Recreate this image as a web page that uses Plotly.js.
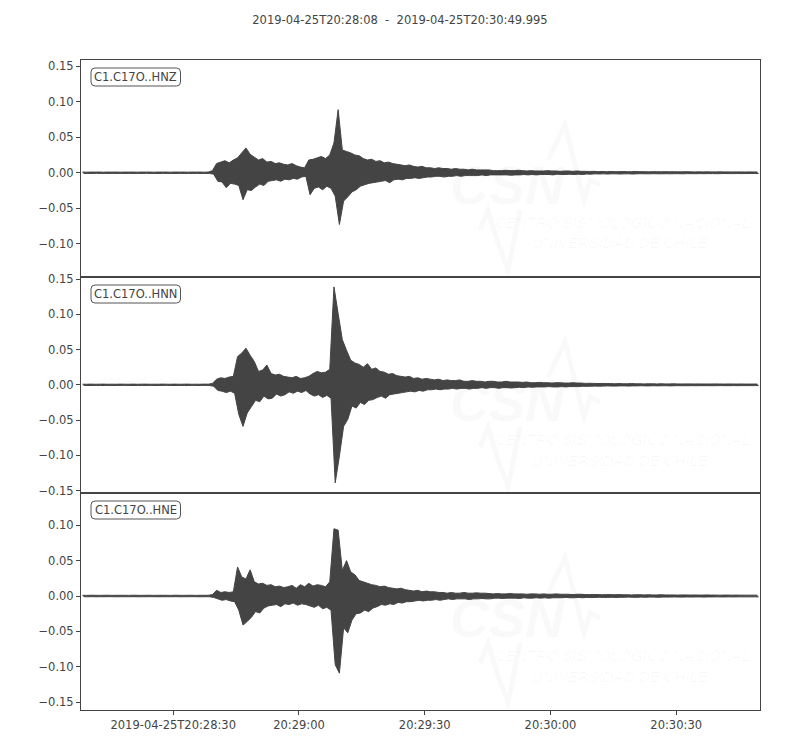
<!DOCTYPE html>
<html>
<head>
<meta charset="utf-8">
<script src="https://cdn.plot.ly/plotly-3.0.1.min.js"></script>
<style>html,body{margin:0;padding:0;background:#fff;}#chart{width:800px;height:750px;}</style>
</head>
<body>
<div id="chart"></div>
<script>
// ---- data: per-second min/max envelope of each channel (bins start at 20:28:08, 1 s wide) ----
const startTime = '2019-04-25T20:28:08';
const endTime = '2019-04-25T20:30:49.995';
const channels = ['C1.C17O..HNZ', 'C1.C17O..HNN', 'C1.C17O..HNE'];

const hnzMax = [
0.001,0.0008,0.001,0.0009,0.001,0.0008,0.001,0.0009,0.001,0.0008,
0.001,0.0009,0.001,0.0008,0.001,0.0009,0.001,0.0008,0.001,0.0009,
0.001,0.0008,0.001,0.0009,0.001,0.0008,0.001,0.0009,0.001,0.0008,
0.001,0.003,0.013,0.015,0.017,0.014,0.018,0.021,0.028,0.035,
0.026,0.022,0.018,0.020,0.015,0.016,0.013,0.014,0.012,0.011,
0.013,0.010,0.008,0.007,0.018,0.019,0.021,0.023,0.020,0.025,
0.042,0.089,0.032,0.030,0.028,0.025,0.024,0.020,0.018,0.019,
0.016,0.017,0.014,0.015,0.013,0.012,0.011,0.010,0.011,0.009,
0.008,0.009,0.007,0.007,0.006,0.007,0.006,0.006,0.005,0.006,
0.005,0.005,0.004,0.005,0.004,0.004,0.004,0.004,0.003,0.003,
0.003,0.0035,0.003,0.003,0.0035,0.003,0.0025,0.003,0.0025,0.0025,
0.0025,0.003,0.0025,0.0025,0.002,0.0025,0.0025,0.002,0.0025,0.002,
0.002,0.0018,0.002,0.0015,0.0018,0.0015,0.0018,0.0015,0.0015,0.0018,
0.0015,0.0015,0.0018,0.0015,0.0015,0.0013,0.0015,0.0015,0.0013,0.0015,
0.0013,0.0015,0.0013,0.0013,0.0015,0.0013,0.0012,0.0013,0.0012,0.0013,
0.0012,0.0012,0.0013,0.0012,0.0012,0.0011,0.0012,0.0012,0.0011,0.0012,
0.0011,0.0011];
const hnzMin = [
-0.001,-0.0009,-0.001,-0.0008,-0.001,-0.0009,-0.001,-0.0008,-0.001,-0.0009,
-0.001,-0.0008,-0.001,-0.0009,-0.001,-0.0008,-0.001,-0.0009,-0.001,-0.0008,
-0.001,-0.0009,-0.001,-0.0008,-0.001,-0.0009,-0.001,-0.0008,-0.001,-0.0009,
-0.001,-0.002,-0.012,-0.013,-0.021,-0.015,-0.016,-0.018,-0.038,-0.024,
-0.025,-0.020,-0.016,-0.018,-0.012,-0.011,-0.010,-0.012,-0.009,-0.010,
-0.008,-0.009,-0.006,-0.005,-0.031,-0.022,-0.020,-0.024,-0.019,-0.022,
-0.033,-0.073,-0.040,-0.034,-0.027,-0.024,-0.019,-0.017,-0.015,-0.014,
-0.013,-0.012,-0.011,-0.014,-0.010,-0.009,-0.010,-0.008,-0.008,-0.007,
-0.008,-0.007,-0.006,-0.006,-0.005,-0.005,-0.006,-0.005,-0.005,-0.004,
-0.005,-0.004,-0.004,-0.004,-0.004,-0.003,-0.004,-0.003,-0.003,-0.003,
-0.003,-0.003,-0.0035,-0.003,-0.003,-0.0025,-0.003,-0.0025,-0.003,-0.0025,
-0.0025,-0.0025,-0.003,-0.002,-0.0025,-0.0025,-0.002,-0.0025,-0.002,-0.0025,
-0.0018,-0.002,-0.0015,-0.0018,-0.0015,-0.0018,-0.0015,-0.0015,-0.0018,-0.0015,
-0.0015,-0.0018,-0.0015,-0.0013,-0.0015,-0.0015,-0.0013,-0.0015,-0.0015,-0.0013,
-0.0015,-0.0013,-0.0013,-0.0015,-0.0012,-0.0013,-0.0013,-0.0012,-0.0013,-0.0012,
-0.0012,-0.0013,-0.0012,-0.0011,-0.0012,-0.0012,-0.0011,-0.0012,-0.0011,-0.0011,
-0.0011,-0.0011];

const hnnMax = [
0.0009,0.0008,0.001,0.0008,0.0009,0.001,0.0008,0.0009,0.0008,0.001,
0.0009,0.0008,0.001,0.0008,0.0009,0.001,0.0008,0.0009,0.0008,0.001,
0.0009,0.0008,0.001,0.0008,0.0009,0.001,0.0008,0.0009,0.0008,0.001,
0.0009,0.002,0.008,0.010,0.009,0.011,0.012,0.040,0.045,0.052,
0.042,0.033,0.019,0.021,0.028,0.016,0.014,0.015,0.012,0.011,
0.010,0.012,0.009,0.010,0.012,0.016,0.019,0.017,0.018,0.022,
0.139,0.101,0.064,0.049,0.035,0.031,0.029,0.025,0.030,0.022,
0.024,0.019,0.018,0.015,0.016,0.013,0.012,0.011,0.012,0.009,
0.010,0.008,0.009,0.008,0.007,0.008,0.006,0.007,0.006,0.006,
0.007,0.005,0.005,0.006,0.005,0.005,0.004,0.005,0.005,0.004,
0.004,0.005,0.004,0.004,0.004,0.0035,0.004,0.003,0.003,0.0035,
0.003,0.003,0.0025,0.003,0.003,0.0025,0.0025,0.003,0.0025,0.0025,
0.002,0.0022,0.002,0.0018,0.002,0.0018,0.0018,0.0015,0.0018,0.0015,
0.0015,0.0018,0.0015,0.0015,0.0013,0.0015,0.0015,0.0013,0.0015,0.0013,
0.0013,0.0015,0.0013,0.0012,0.0013,0.0013,0.0012,0.0013,0.0012,0.0012,
0.0012,0.0013,0.0012,0.0011,0.0012,0.0012,0.0011,0.0012,0.0011,0.0011,
0.0011,0.0011];
const hnnMin = [
-0.0008,-0.001,-0.0009,-0.0008,-0.001,-0.0009,-0.0008,-0.001,-0.0009,-0.0008,
-0.0008,-0.001,-0.0009,-0.0008,-0.001,-0.0009,-0.0008,-0.001,-0.0009,-0.0008,
-0.0008,-0.001,-0.0009,-0.0008,-0.001,-0.0009,-0.0008,-0.001,-0.0009,-0.0008,
-0.001,-0.002,-0.008,-0.009,-0.011,-0.009,-0.012,-0.042,-0.059,-0.040,
-0.031,-0.022,-0.024,-0.016,-0.020,-0.019,-0.013,-0.016,-0.014,-0.010,
-0.012,-0.009,-0.011,-0.008,-0.013,-0.016,-0.014,-0.018,-0.015,-0.019,
-0.139,-0.101,-0.059,-0.049,-0.030,-0.033,-0.025,-0.028,-0.022,-0.021,
-0.018,-0.016,-0.019,-0.014,-0.013,-0.012,-0.011,-0.010,-0.009,-0.010,
-0.008,-0.009,-0.007,-0.007,-0.006,-0.007,-0.006,-0.006,-0.005,-0.006,
-0.005,-0.005,-0.006,-0.005,-0.005,-0.004,-0.005,-0.004,-0.004,-0.005,
-0.004,-0.004,-0.0045,-0.004,-0.0035,-0.004,-0.003,-0.0035,-0.003,-0.003,
-0.003,-0.0025,-0.003,-0.003,-0.0025,-0.003,-0.0025,-0.0025,-0.0025,-0.002,
-0.0022,-0.002,-0.0018,-0.002,-0.0018,-0.0015,-0.0018,-0.0018,-0.0015,-0.0015,
-0.0018,-0.0015,-0.0015,-0.0013,-0.0015,-0.0015,-0.0013,-0.0015,-0.0013,-0.0013,
-0.0015,-0.0013,-0.0012,-0.0013,-0.0013,-0.0012,-0.0013,-0.0012,-0.0012,-0.0012,
-0.0013,-0.0012,-0.0011,-0.0012,-0.0012,-0.0011,-0.0012,-0.0011,-0.0011,-0.0011,
-0.0011,-0.0011];

const hneMax = [
0.001,0.0009,0.0011,0.001,0.0009,0.001,0.0011,0.0009,0.001,0.001,
0.001,0.0009,0.0011,0.001,0.0009,0.001,0.0011,0.0009,0.001,0.001,
0.001,0.0009,0.0011,0.001,0.0009,0.001,0.0011,0.0009,0.001,0.001,
0.001,0.002,0.008,0.005,0.006,0.005,0.006,0.041,0.027,0.024,
0.037,0.020,0.017,0.018,0.015,0.016,0.013,0.014,0.012,0.013,
0.015,0.011,0.016,0.013,0.018,0.014,0.016,0.015,0.013,0.020,
0.095,0.093,0.036,0.050,0.034,0.030,0.022,0.020,0.018,0.016,
0.015,0.013,0.014,0.012,0.011,0.010,0.011,0.009,0.008,0.007,
0.008,0.006,0.007,0.006,0.006,0.005,0.005,0.004,0.005,0.004,
0.004,0.005,0.004,0.004,0.0045,0.004,0.004,0.0035,0.003,0.0035,
0.003,0.003,0.0035,0.003,0.003,0.003,0.0025,0.003,0.003,0.0025,
0.003,0.0025,0.0025,0.003,0.0025,0.0025,0.0025,0.002,0.0025,0.0025,
0.002,0.002,0.0022,0.002,0.0018,0.002,0.002,0.0018,0.002,0.0018,
0.0018,0.0015,0.0018,0.0018,0.0015,0.0018,0.0015,0.0015,0.0018,0.0015,
0.0015,0.0015,0.0013,0.0015,0.0015,0.0013,0.0015,0.0013,0.0013,0.0015,
0.0013,0.0013,0.0012,0.0013,0.0013,0.0012,0.0013,0.0012,0.0012,0.0012,
0.0012,0.0012];
const hneMin = [
-0.001,-0.001,-0.0009,-0.0011,-0.001,-0.001,-0.0009,-0.001,-0.0011,-0.001,
-0.001,-0.001,-0.0009,-0.0011,-0.001,-0.001,-0.0009,-0.001,-0.0011,-0.001,
-0.001,-0.001,-0.0009,-0.0011,-0.001,-0.001,-0.0009,-0.001,-0.0011,-0.001,
-0.001,-0.002,-0.004,-0.006,-0.005,-0.007,-0.008,-0.020,-0.041,-0.036,
-0.030,-0.022,-0.024,-0.017,-0.014,-0.013,-0.012,-0.015,-0.011,-0.012,
-0.010,-0.013,-0.011,-0.012,-0.014,-0.016,-0.013,-0.018,-0.016,-0.020,
-0.097,-0.109,-0.045,-0.052,-0.034,-0.025,-0.024,-0.020,-0.022,-0.017,
-0.015,-0.012,-0.013,-0.011,-0.012,-0.009,-0.010,-0.008,-0.008,-0.007,
-0.006,-0.007,-0.006,-0.006,-0.005,-0.006,-0.005,-0.004,-0.005,-0.004,
-0.004,-0.004,-0.005,-0.004,-0.004,-0.0035,-0.004,-0.004,-0.003,-0.003,
-0.0035,-0.003,-0.003,-0.003,-0.0035,-0.0025,-0.003,-0.003,-0.0025,-0.003,
-0.0025,-0.003,-0.0025,-0.0025,-0.0025,-0.002,-0.0025,-0.0025,-0.002,-0.0025,
-0.002,-0.0022,-0.002,-0.0018,-0.002,-0.002,-0.0018,-0.002,-0.0018,-0.0018,
-0.0015,-0.0018,-0.0018,-0.0015,-0.0018,-0.0015,-0.0015,-0.0018,-0.0015,-0.0015,
-0.0015,-0.0013,-0.0015,-0.0015,-0.0013,-0.0015,-0.0013,-0.0013,-0.0015,-0.0013,
-0.0013,-0.0012,-0.0013,-0.0013,-0.0012,-0.0013,-0.0012,-0.0012,-0.0012,-0.0012,
-0.0012,-0.0012];

const yRanges = [[-0.147, 0.159], [-0.1535, 0.153], [-0.161, 0.1455]];
const yTickVals = [
  [0.15, 0.10, 0.05, 0.00, -0.05, -0.10],
  [0.15, 0.10, 0.05, 0.00, -0.05, -0.10, -0.15],
  [0.10, 0.05, 0.00, -0.05, -0.10, -0.15]
];
const xTickVals = ['2019-04-25 20:28:30', '2019-04-25 20:29:00', '2019-04-25 20:29:30', '2019-04-25 20:30:00', '2019-04-25 20:30:30'];
const xTickText = ['2019-04-25T20:28:30', '20:29:00', '20:29:30', '20:30:00', '20:30:30'];

// ---- build ----
const t0 = Date.UTC(2019, 3, 25, 20, 28, 8);
function ts(sec) {
  return new Date(t0 + sec * 1000).toISOString().replace('T', ' ').replace('Z', '');
}
function fmtTick(v) {
  const s = Math.abs(v).toFixed(2);
  return (v < -1e-9 ? '\u2212' : '') + s;
}
const series = [[hnzMax, hnzMin], [hnnMax, hnnMin], [hneMax, hneMin]];
const INK = '#444444';
const FONT = 'DejaVu Sans, sans-serif';

const traces = [];
series.forEach((s, k) => {
  const xa = k === 0 ? 'x' : 'x' + (k + 1);
  const ya = k === 0 ? 'y' : 'y' + (k + 1);
  const xu = s[0].map((_, i) => ts(i + 0.35));
  const xl = s[1].map((_, i) => ts(i + 0.65));
  // band between the per-bin maximum and minimum (min/max rendering of a dense trace)
  traces.push({
    x: xu, y: s[0], type: 'scatter', mode: 'lines',
    line: {color: INK, width: 1, simplify: false},
    xaxis: xa, yaxis: ya, hoverinfo: 'skip', showlegend: false
  });
  traces.push({
    x: xl, y: s[1], type: 'scatter', mode: 'lines', fill: 'tonexty', fillcolor: INK,
    line: {color: INK, width: 1, simplify: false},
    xaxis: xa, yaxis: ya, hoverinfo: 'skip', showlegend: false
  });
});

// pixel geometry of the plot area
const PL = 81, PR = 760, PT = 60, PB = 710;
const px = v => (v - PL) / (PR - PL);
const py = v => (PB - v) / (PB - PT);
const panelTops = [60, 277, 493];
const panelBottoms = [277, 493, 710];

const layout = {
  width: 800, height: 750,
  margin: {l: PL, r: 800 - PR, t: PT, b: 750 - PB},
  paper_bgcolor: '#ffffff', plot_bgcolor: 'rgba(0,0,0,0)',
  font: {family: FONT, size: 11.5, color: INK},
  title: {
    text: '2019-04-25T20:28:08\u00a0\u00a0-\u00a0\u00a02019-04-25T20:30:49.995',
    font: {family: FONT, size: 11.5, color: INK},
    xref: 'container', x: 0.5, xanchor: 'center',
    yref: 'container', y: 1 - 20 / 750, yanchor: 'middle'
  },
  showlegend: false,
  annotations: [],
  shapes: []
};

const WM = 'rgba(0,0,0,0.022)';
const WMT = 'rgba(0,0,0,0.032)';
for (let k = 0; k < 3; k++) {
  const sx = k === 0 ? '' : String(k + 1);
  layout['xaxis' + sx] = {
    type: 'date',
    range: [ts(0), ts(161.995)],
    domain: [0, 1],
    anchor: 'y' + sx,
    showline: true, mirror: true, linecolor: INK, linewidth: 1,
    showgrid: false, zeroline: false,
    ticks: k === 2 ? 'outside' : '', ticklen: 4, tickcolor: INK, tickwidth: 1,
    tickvals: xTickVals, ticktext: xTickText,
    showticklabels: k === 2,
    tickfont: {family: FONT, size: 11.5, color: INK}
  };
  if (k > 0) layout['xaxis' + sx].matches = 'x';
  layout['yaxis' + sx] = {
    range: yRanges[k],
    domain: [py(panelBottoms[k]), py(panelTops[k])],
    anchor: 'x' + sx,
    showline: true, mirror: true, linecolor: INK, linewidth: 1,
    showgrid: false, zeroline: false,
    ticks: 'outside', ticklen: 4, tickcolor: INK, tickwidth: 1,
    tickvals: yTickVals[k], ticktext: yTickVals[k].map(fmtTick),
    tickfont: {family: FONT, size: 11.5, color: INK},
    fixedrange: true
  };

  // faint watermark
  const top = panelTops[k];
  layout.annotations.push({
    xref: 'paper', yref: 'paper', x: px(507), y: py(top + 125), xanchor: 'center', yanchor: 'middle',
    text: '<b><i>CSN</i></b>', showarrow: false,
    font: {family: 'Liberation Sans, sans-serif', size: 54, color: WM}
  });
  layout.annotations.push({
    xref: 'paper', yref: 'paper', x: px(752), y: py(top + 162), xanchor: 'right', yanchor: 'middle',
    text: '<i>CENTRO SISMOLÓGICO NACIONAL</i>', showarrow: false,
    font: {family: 'Liberation Sans Narrow, Liberation Sans, sans-serif', size: 15, color: WMT}
  });
  layout.annotations.push({
    xref: 'paper', yref: 'paper', x: px(530), y: py(top + 183), xanchor: 'left', yanchor: 'middle',
    text: '<i>UNIVERSIDAD DE CHILE</i>', showarrow: false,
    font: {family: 'Liberation Sans Narrow, Liberation Sans, sans-serif', size: 15, color: WMT}
  });
  const wave = [[548, 100], [565, 65], [584, 140], [590, 120], [600, 125]];
  const wave2 = [[480, 170], [488, 150], [497, 180], [508, 210], [520, 150]];
  [wave, wave2].forEach(w => {
    const p = 'M ' + w.map(q => px(q[0]) + ',' + py(top + q[1])).join(' L ');
    layout.shapes.push({type: 'path', xref: 'paper', yref: 'paper', path: p,
      line: {color: WM, width: 5}, layer: 'below'});
  });

  // channel label box (rounded)
  const bx0 = 91, bx1 = 180.5, by0 = top + 8, by1 = top + 26, r = 4;
  const P = (a, b) => px(a) + ',' + py(b);
  const path = 'M ' + P(bx0 + r, by0) + ' L ' + P(bx1 - r, by0) + ' Q ' + P(bx1, by0) + ' ' + P(bx1, by0 + r) +
    ' L ' + P(bx1, by1 - r) + ' Q ' + P(bx1, by1) + ' ' + P(bx1 - r, by1) +
    ' L ' + P(bx0 + r, by1) + ' Q ' + P(bx0, by1) + ' ' + P(bx0, by1 - r) +
    ' L ' + P(bx0, by0 + r) + ' Q ' + P(bx0, by0) + ' ' + P(bx0 + r, by0) + ' Z';
  layout.shapes.push({type: 'path', xref: 'paper', yref: 'paper', path: path,
    line: {color: '#555555', width: 1}, fillcolor: '#ffffff', layer: 'above'});
  layout.annotations.push({
    xref: 'paper', yref: 'paper', x: px((bx0 + bx1) / 2), y: py((by0 + by1) / 2),
    xanchor: 'center', yanchor: 'middle', text: channels[k], showarrow: false,
    font: {family: FONT, size: 11.5, color: INK}
  });
}

Plotly.newPlot('chart', traces, layout, {displayModeBar: false, staticPlot: true});
</script>
</body>
</html>
